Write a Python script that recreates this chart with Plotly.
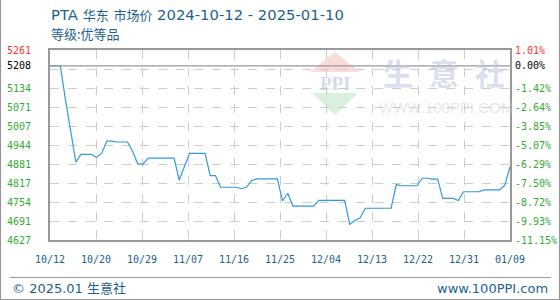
import re
import plotly.graph_objects as go

# ---------------- data ----------------
title_text = "PTA 华东 市场价 2024-10-12 - 2025-01-10"
subtitle_text = "等级:优等品"
day_index = list(range(90))
prices = [5208, 5208, 5208, 5094, 4987, 4887, 4913, 4913, 4913, 4903,
          4916, 4957, 4957, 4954, 4954, 4954, 4922, 4880, 4880, 4900,
          4900, 4900, 4900, 4900, 4900, 4827, 4872, 4916, 4916, 4916,
          4916, 4842, 4842, 4803, 4803, 4803, 4803, 4798, 4803, 4825,
          4831, 4831, 4831, 4831, 4831, 4757, 4783, 4740, 4740, 4740,
          4740, 4740, 4759, 4759, 4759, 4759, 4759, 4759, 4679, 4693,
          4700, 4733, 4733, 4733, 4733, 4733, 4733, 4812, 4808, 4808,
          4808, 4808, 4833, 4833, 4830, 4830, 4766, 4766, 4766, 4759,
          4788, 4788, 4788, 4788, 4794, 4794, 4794, 4794, 4810, 4872]
x_tick_pos = [0, 8.9, 17.8, 26.7, 35.6, 44.5, 53.4, 62.3, 71.2, 80.1, 89]
x_tick_text = ["10/12", "10/20", "10/29", "11/07", "11/16", "11/25",
               "12/04", "12/13", "12/22", "12/31", "01/09"]
grid_values = [4627, 4690.4, 4753.8, 4817.2, 4880.6, 4944, 5007.4,
               5070.8, 5134.2, 5197.6, 5261]
base_price = 5208
left_label_values = [5261, 5208, 5134.2, 5070.8, 5007.4, 4944, 4880.6,
                     4817.2, 4753.8, 4690.4, 4627]
left_label_text = ["5261", "5208", "5134", "5071", "5007", "4944", "4881",
                   "4817", "4754", "4691", "4627"]
right_label_text = ["1.01%", "0.00%", "-1.42%", "-2.64%", "-3.85%", "-5.07%",
                    "-6.29%", "-7.50%", "-8.72%", "-9.93%", "-11.15%"]
footer_left = "© 2025.01 生意社"
footer_right = "www.100PPI.com"

# ---------------- layout helpers ----------------
W, H = 560, 300
L, R, T, B = 50, 50, 50, 60
PW, PH = W - L - R, H - T - B


def px(x):
    return (x - L) / PW


def py(y):
    return (H - B - y) / PH


RED = "#ff3333"
GREEN = "#33aa33"
BLACK = "#000000"
BLUE_TXT = "#1e5f90"
FRAME = "#999999"
MONO = "DejaVu Sans Mono"
CJK = "Noto Sans CJK SC"
MIXED = "DejaVu Sans, Noto Sans CJK SC"


def styled_title(s, latin_px, cjk_px):
    parts = re.findall(r"[\u4e00-\u9fff]+|[^\u4e00-\u9fff]+", s)
    out = []
    for p in parts:
        size = cjk_px if re.match(r"[\u4e00-\u9fff]", p) else latin_px
        out.append(f'<span style="font-size:{size}px">{p}</span>')
    return "".join(out)


fig = go.Figure()
fig.add_trace(go.Scatter(
    x=day_index, y=prices, mode="lines",
    line=dict(color="#3399dd", width=1.2),
    hoverinfo="skip", showlegend=False,
))

annotations = []
# left and right axis labels
for i, (v, lt, rt) in enumerate(zip(left_label_values, left_label_text, right_label_text)):
    col = RED if i == 0 else (BLACK if i == 1 else GREEN)
    annotations.append(dict(xref="paper", yref="y", x=px(5), y=v, text=lt,
                            xanchor="left", yanchor="middle", showarrow=False,
                            font=dict(family=MONO, size=10, color=col)))
    annotations.append(dict(xref="paper", yref="y", x=px(513), y=v, text=rt,
                            xanchor="left", yanchor="middle", showarrow=False,
                            font=dict(family=MONO, size=10, color=col)))

# titles
annotations.append(dict(xref="paper", yref="paper", x=px(49), y=py(14),
                        text=styled_title(title_text, 14.8, 13),
                        xanchor="left", yanchor="middle", showarrow=False,
                        font=dict(family=MIXED, size=14, color=BLUE_TXT)))
annotations.append(dict(xref="paper", yref="paper", x=px(49), y=py(34), text=subtitle_text,
                        xanchor="left", yanchor="middle", showarrow=False,
                        font=dict(family=CJK, size=13, color=BLUE_TXT)))
# footer
annotations.append(dict(xref="paper", yref="paper", x=px(10), y=py(288), text=footer_left,
                        xanchor="left", yanchor="middle", showarrow=False,
                        font=dict(family=MIXED, size=13, color=BLUE_TXT)))
annotations.append(dict(xref="paper", yref="paper", x=px(550), y=py(288), text=footer_right,
                        xanchor="right", yanchor="middle", showarrow=False,
                        font=dict(family=MIXED, size=13, color=BLUE_TXT)))

# watermark
annotations.append(dict(xref="paper", yref="paper", x=px(335), y=py(83), text="<b>PPI</b>",
                        xanchor="center", yanchor="middle", showarrow=False,
                        font=dict(family="Liberation Serif", size=19, color="rgba(170,185,215,0.5)")))
for ch, cx in zip("生意社", [398, 444, 490]):
    annotations.append(dict(xref="paper", yref="paper", x=px(cx), y=py(72), text="<b>" + ch + "</b>",
                            xanchor="center", yanchor="middle", showarrow=False,
                            font=dict(family=CJK, size=30, color="rgba(185,196,220,0.55)")))
annotations.append(dict(xref="paper", yref="paper", x=px(446), y=py(107), text="WWW.100PPI.COM",
                        xanchor="center", yanchor="middle", showarrow=False,
                        font=dict(family="Liberation Sans", size=15, color="rgba(200,200,200,0.45)")))


def path_px(points):
    return "M " + " L ".join(f"{px(a)},{py(b)}" for a, b in points) + " Z"


shapes = [
    # watermark triangles
    dict(type="path", xref="paper", yref="paper", layer="below",
         path=path_px([(335, 52), (360, 72), (310, 72)]),
         fillcolor="rgba(235,130,120,0.28)", line=dict(width=0)),
    dict(type="path", xref="paper", yref="paper", layer="below",
         path=path_px([(312, 93), (358, 93), (335, 115)]),
         fillcolor="rgba(120,200,130,0.28)", line=dict(width=0)),
    # baseline
    dict(type="line", xref="paper", yref="y", x0=0, x1=1, y0=base_price, y1=base_price,
         line=dict(color=FRAME, width=1.2)),
    # outer frame (left, bottom, right)
    dict(type="path", xref="paper", yref="paper",
         path=f"M {px(0.5)},{py(0)} L {px(0.5)},{py(299.5)} L {px(559.5)},{py(299.5)} L {px(559.5)},{py(0)}",
         line=dict(color=FRAME, width=1.2)),
    # footer separator
    dict(type="line", xref="paper", yref="paper", x0=px(10), x1=px(551), y0=py(277.5), y1=py(277.5),
         line=dict(color=FRAME, width=1.2)),
]

fig.update_layout(
    width=W, height=H,
    margin=dict(l=L, r=R, t=T, b=B),
    paper_bgcolor="white", plot_bgcolor="white",
    showlegend=False,
    annotations=annotations,
    shapes=shapes,
    xaxis=dict(range=[0, 89], tickmode="array", tickvals=x_tick_pos, ticktext=x_tick_text,
               showgrid=True, gridcolor="#cccccc", griddash="dash", gridwidth=1,
               showline=True, linecolor=FRAME, linewidth=1.5, mirror=True,
               zeroline=False, ticks="", ticklabelstandoff=9,
               tickfont=dict(family=MONO, size=10, color=BLUE_TXT)),
    yaxis=dict(range=[grid_values[0], grid_values[-1]], tickmode="array", tickvals=grid_values,
               showticklabels=False, showgrid=True, gridcolor="#cccccc", griddash="dash",
               gridwidth=1, showline=True, linecolor=FRAME, linewidth=1.5, mirror=True,
               zeroline=False, ticks=""),
)

fig.write_html("out.html")
